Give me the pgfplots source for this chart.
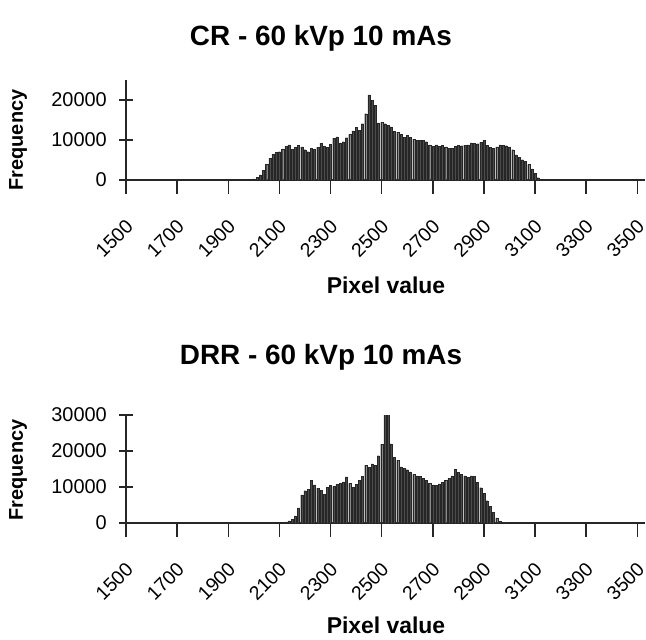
\documentclass[border=0pt]{standalone}
\usepackage{pgfplots}
\pgfplotsset{compat=1.18}
\usepackage{pgfplotstable}
\usepackage{fontspec}
\setmainfont{Liberation Sans}

\pgfplotstableread{
x y
2000 300
2012.5 700
2025 1300
2037.5 2400
2050 4000
2062.5 5500
2075 6400
2087.5 6900
2100 7100
2112.5 7800
2125 8400
2137.5 8800
2150 7700
2162.5 8200
2175 8700
2187.5 8300
2200 7600
2212.5 7100
2225 7900
2237.5 7700
2250 8200
2262.5 9200
2275 8500
2287.5 8200
2300 9000
2312.5 10500
2325 10800
2337.5 9300
2350 9600
2362.5 10600
2375 11400
2387.5 12300
2400 13200
2412.5 12500
2425 14100
2437.5 16600
2450 21300
2462.5 20000
2475 18700
2487.5 14300
2500 14400
2512.5 14100
2525 13700
2537.5 13300
2550 12200
2562.5 12000
2575 11500
2587.5 10700
2600 11200
2612.5 10700
2625 10200
2637.5 10000
2650 10000
2662.5 10000
2675 9600
2687.5 8800
2700 8500
2712.5 8800
2725 8500
2737.5 8700
2750 8300
2762.5 8000
2775 7900
2787.5 8500
2800 8700
2812.5 8600
2825 8700
2837.5 8800
2850 9300
2862.5 9200
2875 9100
2887.5 9400
2900 10000
2912.5 8700
2925 8200
2937.5 7900
2950 8300
2962.5 8800
2975 8700
2987.5 8600
3000 8300
3012.5 7600
3025 6300
3037.5 5700
3050 5100
3062.5 4700
3075 3900
3087.5 2800
3100 1700
3112.5 600
3125 150
}\crdata

\pgfplotstableread{
x y
2112.5 150
2125 300
2137.5 600
2150 1000
2162.5 2000
2175 4200
2187.5 7800
2200 9000
2212.5 9300
2225 11800
2237.5 10600
2250 9700
2262.5 9100
2275 7900
2287.5 9900
2300 10400
2312.5 10200
2325 10700
2337.5 11100
2350 11400
2362.5 12800
2375 11000
2387.5 9900
2400 10800
2412.5 11800
2425 12900
2437.5 16100
2450 15500
2462.5 16400
2475 16000
2487.5 18700
2500 21900
2512.5 30500
2525 30500
2537.5 22000
2550 18200
2562.5 17500
2575 15600
2587.5 15200
2600 14800
2612.5 14200
2625 13500
2637.5 13100
2650 12900
2662.5 12500
2675 11800
2687.5 11000
2700 10600
2712.5 10400
2725 10900
2737.5 11300
2750 11800
2762.5 12400
2775 13100
2787.5 15000
2800 14100
2812.5 13600
2825 13100
2837.5 12700
2850 13100
2862.5 13000
2875 11300
2887.5 9800
2900 8300
2912.5 6200
2925 4600
2937.5 3000
2950 1400
2962.5 500
2975 200
2987.5 100
}\drrdata

\pgfplotsset{
  histo/.style={
    scale only axis,
    width=519bp,
    xmin=1500, xmax=3530,
    ymin=0,
    axis x line=bottom,
    axis y line=left,
    axis line style={-, line width=1.5bp, black!85},
    tick style={line width=1.5bp, black!85},
    major tick length=14bp,
    tick align=center,
    xtick={1500,1700,...,3500},
    scaled y ticks=false,
    /pgf/number format/1000 sep={},
    /pgf/number format/assume math mode=true,
    xticklabel style={rotate=45, anchor=north east, font=\fontsize{19.5}{19.5}\selectfont, inner sep=0bp, xshift=-18bp, yshift=-16bp},
    yticklabel style={font=\fontsize{20}{20}\selectfont, inner sep=0bp, xshift=-12bp},
    ybar, bar width=8,
  },
  barsty/.style={fill=black!70, draw=black!85, line width=0.2bp}
}

\begin{document}
\begin{tikzpicture}
\useasboundingbox (0,0) rectangle (646bp,-640bp);

\begin{axis}[histo,
  at={(126bp,-180bp)}, anchor=south west,
  height=100bp, ymax=25000,
  ytick={0,10000,20000}]
\addplot[barsty] table[x=x,y=y] {\crdata};
\end{axis}

\begin{axis}[histo,
  at={(126bp,-523bp)}, anchor=south west,
  height=108bp, ymax=30000,
  ytick={0,10000,20000,30000}]
\addplot[barsty] table[x=x,y=y] {\drrdata};
\end{axis}

\node[font=\fontsize{28}{28}\selectfont\bfseries] at (321bp,-38bp) {CR - 60 kVp 10 mAs};
\node[font=\fontsize{28}{28}\selectfont\bfseries] at (321bp,-357bp) {DRR - 60 kVp 10 mAs};
\node[font=\fontsize{23}{23}\selectfont\bfseries] at (386bp,-285bp) {Pixel value};
\node[font=\fontsize{23}{23}\selectfont\bfseries] at (386bp,-625bp) {Pixel value};
\node[font=\fontsize{20}{20}\selectfont\bfseries, rotate=90] at (18bp,-140bp) {Frequency};
\node[font=\fontsize{20}{20}\selectfont\bfseries, rotate=90] at (18bp,-470bp) {Frequency};
\end{tikzpicture}
\end{document}
